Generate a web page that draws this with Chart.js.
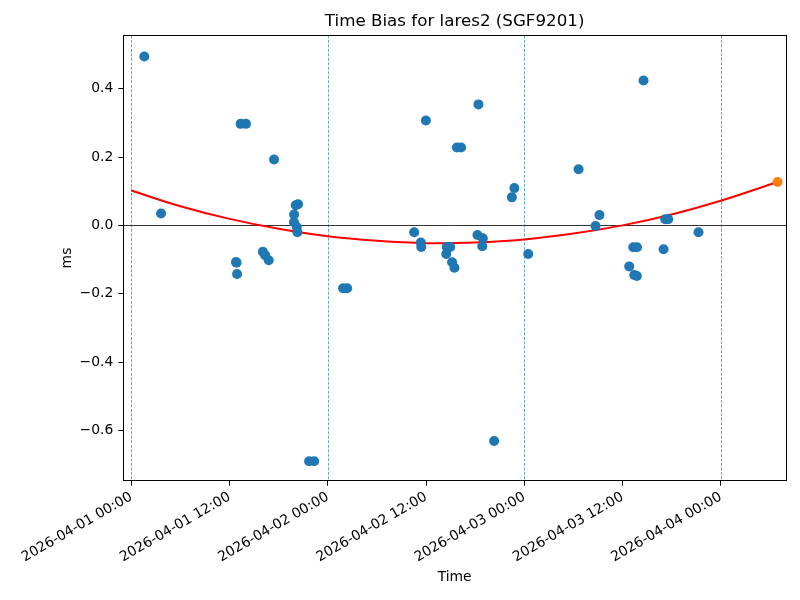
<!DOCTYPE html>
<html>
<head>
<meta charset="utf-8">
<script src="https://cdn.jsdelivr.net/npm/chart.js@4"></script>
<style>
  body { margin: 0; background: #fff; }
  canvas { display: block; }
</style>
</head>
<body>
<canvas id="biasChart" width="800" height="600"></canvas>
<script>
// Data (times in UTC, bias in ms)
const obsTimes = [
  "2026-04-01 01:35", "2026-04-01 03:38", "2026-04-01 12:47", "2026-04-01 12:51",
  "2026-04-01 12:55", "2026-04-01 13:21", "2026-04-01 14:00", "2026-04-01 16:04",
  "2026-04-01 16:20", "2026-04-01 16:47", "2026-04-01 17:26", "2026-04-01 19:53",
  "2026-04-01 19:52", "2026-04-01 20:05", "2026-04-01 20:22", "2026-04-01 20:13",
  "2026-04-01 20:17", "2026-04-01 21:43", "2026-04-01 22:20", "2026-04-02 01:52",
  "2026-04-02 02:22", "2026-04-02 10:33", "2026-04-02 11:22", "2026-04-02 11:25",
  "2026-04-02 11:59", "2026-04-02 14:28", "2026-04-02 14:32", "2026-04-02 14:57",
  "2026-04-02 15:11", "2026-04-02 15:28", "2026-04-02 15:46", "2026-04-02 16:17",
  "2026-04-02 18:17", "2026-04-02 18:24", "2026-04-02 18:52", "2026-04-02 18:56",
  "2026-04-02 20:19", "2026-04-02 22:29", "2026-04-02 22:47", "2026-04-03 00:29",
  "2026-04-03 06:38", "2026-04-03 08:42", "2026-04-03 09:11", "2026-04-03 12:49",
  "2026-04-03 13:19", "2026-04-03 13:26", "2026-04-03 13:46", "2026-04-03 13:45",
  "2026-04-03 14:34", "2026-04-03 17:01", "2026-04-03 17:13", "2026-04-03 17:35",
  "2026-04-03 21:17"
];
const obsBias = [
  0.494, 0.035, -0.107, -0.109,
  -0.142, 0.297, 0.297, -0.077,
  -0.087, -0.102, 0.193, 0.032,
  0.009, 0.059, 0.062, -0.005,
  -0.020, -0.690, -0.690, -0.184,
  -0.184, -0.020, -0.050, -0.063,
  0.307, -0.084, -0.063, -0.063,
  -0.108, -0.124, 0.228, 0.228,
  -0.028, 0.354, -0.061, -0.038,
  -0.631, 0.082, 0.109, -0.084,
  0.164, -0.002, 0.030, -0.120,
  -0.064, -0.145, -0.064, -0.148,
  0.424, -0.070, 0.018, 0.018,
  -0.020
];

// Fitted trend (red curve), read at 6 h steps
const fitTimes = [
  "2026-04-01 00:00", "2026-04-01 06:00", "2026-04-01 12:00", "2026-04-01 18:00",
  "2026-04-02 00:00", "2026-04-02 06:00", "2026-04-02 12:00", "2026-04-02 18:00",
  "2026-04-03 00:00", "2026-04-03 06:00", "2026-04-03 12:00", "2026-04-03 18:00",
  "2026-04-04 00:00", "2026-04-04 06:56"
];
const fitBias = [
  0.102, 0.056, 0.019, -0.010,
  -0.032, -0.045, -0.052, -0.050,
  -0.041, -0.024, 0.000, 0.032,
  0.072, 0.127
];

// Predicted point (orange)
const predTime = ["2026-04-04 06:56"];
const predBias = [0.127];

const xTickTimes = [
  "2026-04-01 00:00", "2026-04-01 12:00", "2026-04-02 00:00", "2026-04-02 12:00",
  "2026-04-03 00:00", "2026-04-03 12:00", "2026-04-04 00:00"
];
const dayLines = ["2026-04-01 00:00", "2026-04-02 00:00", "2026-04-03 00:00", "2026-04-04 00:00"];
const yTicks = [-0.6, -0.4, -0.2, 0.0, 0.2, 0.4];

const ORIGIN = Date.UTC(2026, 3, 1);

// "YYYY-MM-DD HH:MM" -> hours since 2026-04-01 00:00
function toHours(s) {
  const [d, t] = s.split(" ");
  const [Y, M, D] = d.split("-").map(Number);
  const [h, m] = t.split(":").map(Number);
  return (Date.UTC(Y, M - 1, D, h, m) - ORIGIN) / 3600000;
}

function fromHours(h) {
  return new Date(ORIGIN + h * 3600000).toISOString().slice(0, 16).replace("T", " ");
}

const pair = (times, vals) => times.map((t, i) => ({ x: toHours(t), y: vals[i] }));

// Frame, day lines and zero line, drawn like matplotlib's axvline / axhline
const framePlugin = {
  id: "frame",
  beforeDatasetsDraw(chart) {
    const { ctx, chartArea: a, scales: { x, y } } = chart;
    ctx.save();
    ctx.beginPath();
    ctx.rect(a.left, a.top, a.right - a.left, a.bottom - a.top);
    ctx.clip();

    ctx.strokeStyle = "rgba(31,119,180,0.85)";
    ctx.lineWidth = 0.8;
    ctx.setLineDash([3, 1.5]);
    dayLines.forEach((d) => {
      const px = Math.round(x.getPixelForValue(toHours(d))) + 0.5;
      ctx.beginPath();
      ctx.moveTo(px, a.top);
      ctx.lineTo(px, a.bottom);
      ctx.stroke();
    });

    ctx.setLineDash([]);
    ctx.strokeStyle = "#000";
    ctx.lineWidth = 0.8;
    const py = Math.round(y.getPixelForValue(0)) + 0.5;
    ctx.beginPath();
    ctx.moveTo(a.left, py);
    ctx.lineTo(a.right, py);
    ctx.stroke();
    ctx.restore();
  },
  afterDraw(chart) {
    const { ctx, chartArea: a } = chart;
    ctx.save();
    ctx.strokeStyle = "#000";
    ctx.lineWidth = 1;
    ctx.strokeRect(Math.round(a.left) + 0.5, Math.round(a.top) + 0.5,
      Math.round(a.right - a.left), Math.round(a.bottom - a.top));
    ctx.restore();
  },
};

const tickFont = { family: "DejaVu Sans", size: 13.9 };

new Chart(document.getElementById("biasChart"), {
  type: "scatter",
  data: {
    datasets: [
      {
        label: "bias",
        data: pair(obsTimes, obsBias),
        backgroundColor: "#1f77b4",
        borderWidth: 0,
        pointRadius: 5,
      },
      {
        label: "prediction",
        data: pair(predTime, predBias),
        backgroundColor: "#ff7f0e",
        borderWidth: 0,
        pointRadius: 5,
      },
      {
        type: "line",
        label: "fit",
        data: pair(fitTimes, fitBias),
        borderColor: "#ff0000",
        borderWidth: 2,
        pointRadius: 0,
        tension: 0.4,
        fill: false,
      },
    ],
  },
  options: {
    responsive: false,
    animation: false,
    layout: { padding: { left: 55, right: 14, top: 0, bottom: 0 } },
    plugins: {
      legend: { display: false },
      tooltip: { enabled: false },
      title: {
        display: true,
        text: "Time Bias for lares2 (SGF9201)",
        color: "#000",
        fullSize: false,
        font: { family: "DejaVu Sans", size: 16.7, weight: "normal" },
        padding: { top: 12, bottom: 3.3 },
      },
    },
    scales: {
      x: {
        type: "linear",
        min: -0.98,
        max: 79.97,
        afterBuildTicks: (scale) => {
          scale.ticks = xTickTimes.map((t) => ({ value: toHours(t) }));
        },
        afterFit: (scale) => { scale.height = 119.3; },
        ticks: {
          autoSkip: false,
          minRotation: 30,
          maxRotation: 30,
          padding: 3,
          color: "#000",
          font: tickFont,
          callback: (v) => fromHours(v),
        },
        grid: { drawOnChartArea: false, tickLength: 5, tickColor: "#000", tickWidth: 1 },
        border: { color: "#000", width: 1 },
        title: {
          display: true,
          text: "Time",
          color: "#000",
          font: tickFont,
          padding: { top: 0, bottom: 14 },
        },
      },
      y: {
        min: -0.747,
        max: 0.556,
        afterBuildTicks: (scale) => {
          scale.ticks = yTicks.map((v) => ({ value: v }));
        },
        afterFit: (scale) => { scale.width = 68.3; },
        ticks: {
          padding: 5,
          color: "#000",
          font: tickFont,
          callback: (v) => v.toFixed(1).replace("-", "\u2212"),
        },
        grid: { drawOnChartArea: false, tickLength: 5, tickColor: "#000", tickWidth: 1 },
        border: { color: "#000", width: 1 },
        title: {
          display: true,
          text: "ms",
          color: "#000",
          font: tickFont,
          padding: { top: 4, bottom: 4 },
        },
      },
    },
  },
  plugins: [framePlugin],
});
</script>
</body>
</html>
